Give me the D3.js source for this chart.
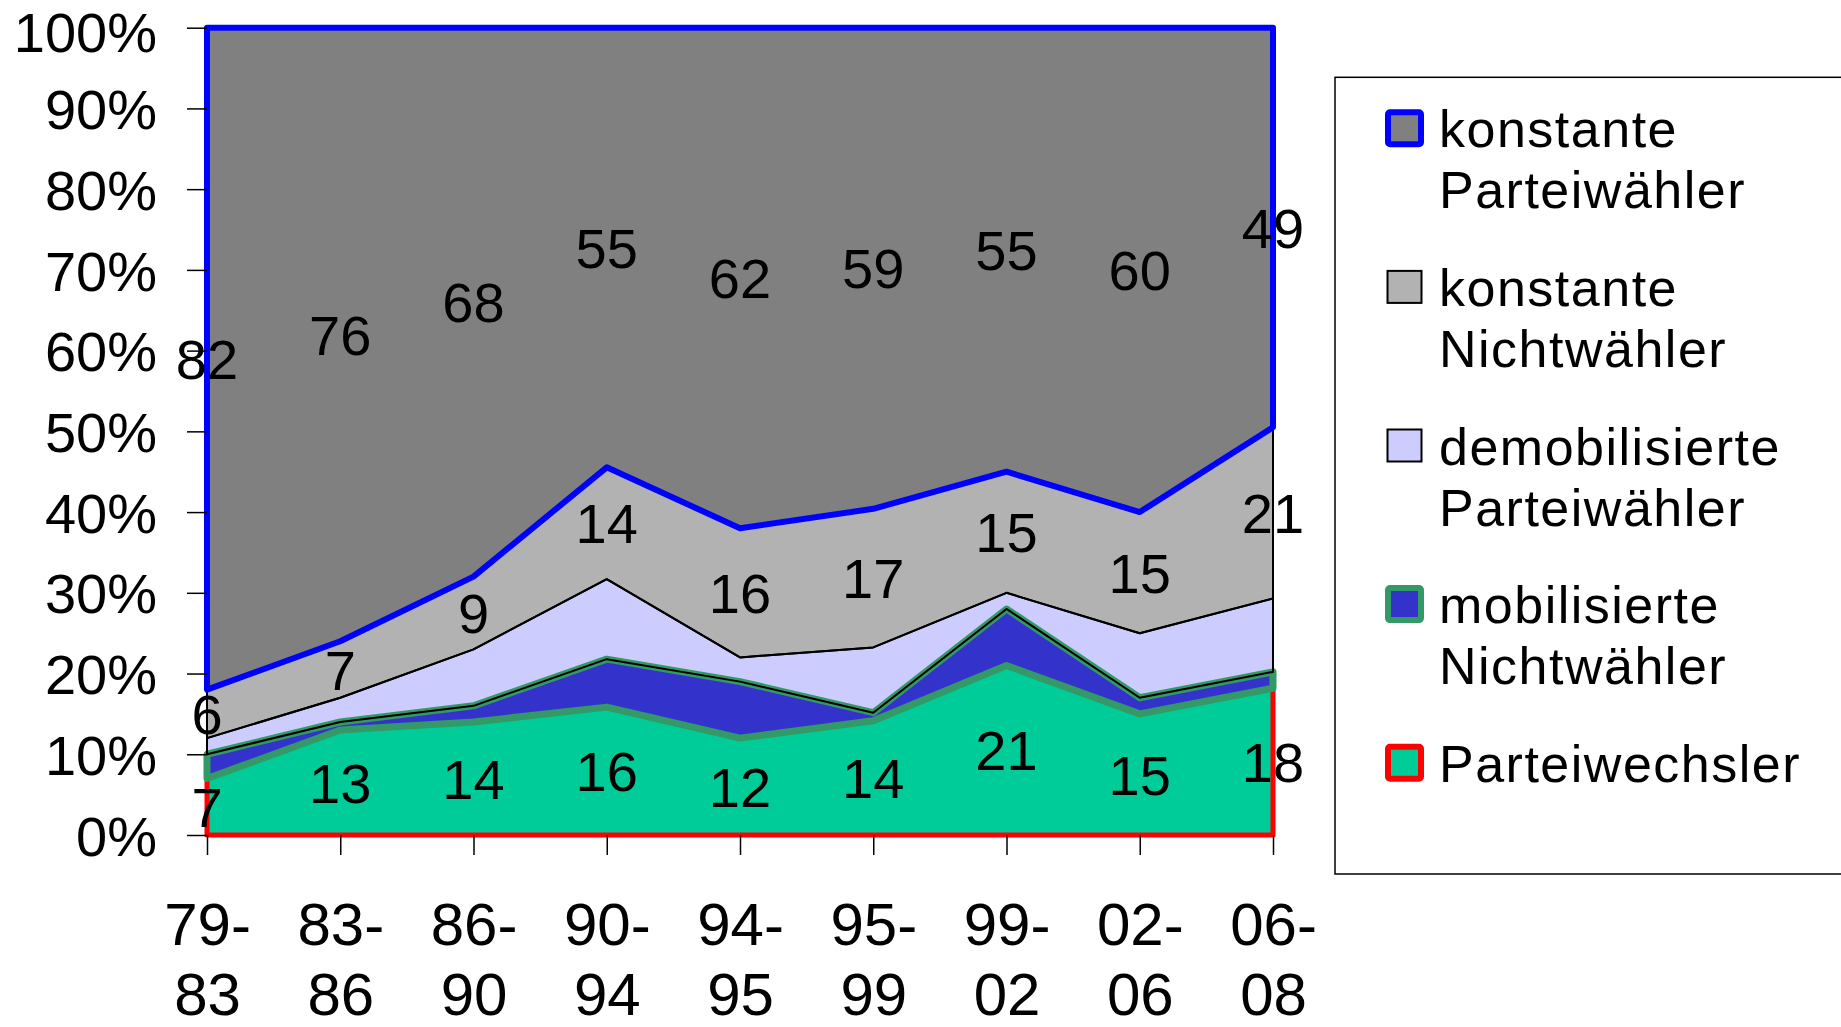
<!DOCTYPE html>
<html>
<head>
<meta charset="utf-8">
<script src="https://cdn.jsdelivr.net/npm/d3@7"></script>
<style>
  html, body { margin: 0; padding: 0; background: #fff; }
  svg { display: block; font-family: "Liberation Sans", Arial, sans-serif; }
</style>
</head>
<body>
<svg id="chart" width="1841" height="1027"></svg>
<script>
// ---- data ----
const categories = ["79-83", "83-86", "86-90", "90-94", "94-95", "95-99", "99-02", "02-06", "06-08"];
const parteiwechsler        = [7, 13, 14, 16, 12, 14, 21, 15, 18];
const mobilisierteNW        = [3, 1, 2, 6, 7, 1, 7, 2, 2];
const demobilisiertePW      = [2, 3, 7, 10, 3, 8, 2, 8, 9];
const konstanteNW           = [6, 7, 9, 14, 16, 17, 15, 15, 21];
const konstantePW           = [82, 76, 68, 55, 62, 59, 55, 60, 49];
const seriesKeys  = ["P", "M", "D", "NW", "KP"];
const seriesNames = [["Parteiwechsler"], ["mobilisierte", "Nichtwähler"], ["demobilisierte", "Parteiwähler"], ["konstante", "Nichtwähler"], ["konstante", "Parteiwähler"]];
const labeledKeys = ["P", "NW", "KP"];
const yTicks = [0, 0.1, 0.2, 0.3, 0.4, 0.5, 0.6, 0.7, 0.8, 0.9, 1.0];

const seriesValues = { P: parteiwechsler, M: mobilisierteNW, D: demobilisiertePW, NW: konstanteNW, KP: konstantePW };
const style = {
  P:  { fill: "#00CC99", stroke: "#FF0000", sw: 5 },
  M:  { fill: "#3333CC", stroke: "#339966", sw: 7 },
  D:  { fill: "#CCCCFF", stroke: "#000000", sw: 2 },
  NW: { fill: "#B2B2B2", stroke: "#000000", sw: 2 },
  KP: { fill: "#808080", stroke: "#0000FF", sw: 6 }
};

const table = categories.map((c, i) => {
  const row = { cat: c };
  seriesKeys.forEach(k => row[k] = seriesValues[k][i]);
  return row;
});

const svg = d3.select("#chart");
const pLeft = 207, pRight = 1273, pTop = 27.7, pBottom = 835;

const x = d3.scalePoint().domain(categories).range([pLeft, pRight]);
const y = d3.scaleLinear().domain([0, 1]).range([pBottom, pTop]);

const stacked = d3.stack().keys(seriesKeys).offset(d3.stackOffsetExpand)(table);

const area = d3.area()
  .x(d => x(d.data.cat))
  .y0(d => y(d[0]))
  .y1(d => y(d[1]));

// axis lines underneath
svg.append("line").attr("x1", pLeft).attr("x2", pRight).attr("y1", pBottom).attr("y2", pBottom)
  .attr("stroke", "#000").attr("stroke-width", 1.5);
svg.append("line").attr("x1", pLeft).attr("x2", pLeft).attr("y1", pBottom).attr("y2", pTop)
  .attr("stroke", "#000").attr("stroke-width", 1.5);

// fills
const plot = svg.append("g");
plot.selectAll("path.fill").data(stacked).join("path")
  .attr("class", "fill")
  .attr("d", area)
  .attr("fill", d => style[d.key].fill)
  .attr("stroke", "none");
// borders
plot.selectAll("path.border").data(stacked).join("path")
  .attr("class", "border")
  .attr("d", area)
  .attr("fill", "none")
  .attr("stroke", d => style[d.key].stroke)
  .attr("stroke-width", d => style[d.key].sw)
  .attr("stroke-linejoin", "round");

// y axis
const yAxis = d3.axisLeft(y).tickValues(yTicks).tickFormat(d3.format(".0%"))
  .tickSize(20).tickSizeOuter(0).tickPadding(30);
const gy = svg.append("g").attr("transform", `translate(${pLeft},0)`).call(yAxis);
gy.select(".domain").remove();
gy.selectAll(".tick line").attr("stroke", "#000").attr("stroke-width", 1.5);
gy.selectAll(".tick text").attr("font-size", 56).attr("fill", "#000")
  .attr("dy", d => d === 1 ? "0.42em" : "0.36em")
  .attr("font-family", "Liberation Sans, Arial, sans-serif");

// x axis
const xAxis = d3.axisBottom(x).tickSize(20).tickSizeOuter(0).tickFormat("");
const gx = svg.append("g").attr("transform", `translate(0,${pBottom})`).call(xAxis);
gx.select(".domain").remove();
gx.selectAll(".tick line").attr("stroke", "#000").attr("stroke-width", 1.5);
gx.selectAll(".tick").each(function(d) {
  const parts = d.split("-");
  const t = d3.select(this).append("text")
    .attr("text-anchor", "middle").attr("font-size", 60).attr("fill", "#000")
    .attr("font-family", "Liberation Sans, Arial, sans-serif");
  t.append("tspan").attr("x", 0).attr("y", 945 - pBottom).text(parts[0] + "-");
  t.append("tspan").attr("x", 0).attr("y", 1015 - pBottom).text(parts[1]);
});

// data labels
stacked.filter(s => labeledKeys.includes(s.key)).forEach(s => {
  svg.append("g").selectAll("text").data(s).join("text")
    .attr("x", d => x(d.data.cat))
    .attr("y", d => (y(d[0]) + y(d[1])) / 2)
    .attr("dy", "0.36em")
    .attr("text-anchor", "middle")
    .attr("font-size", 56)
    .attr("fill", "#000")
    .text(d => d.data[s.key]);
});

// legend
const lg = svg.append("g");
lg.append("rect").attr("x", 1335).attr("y", 77.3).attr("width", 560).attr("height", 796.7)
  .attr("fill", "#fff").attr("stroke", "#000").attr("stroke-width", 1.5);
const legendOrder = seriesKeys.slice().reverse();
legendOrder.forEach((k, i) => {
  const base = 147.3 + i * 158.6;
  const st = style[k];
  const thick = st.sw >= 5;
  const w = thick ? 33 : 34, h = 32;
  lg.append("rect")
    .attr("x", 1404.5 - w / 2).attr("y", base - 19 - h / 2)
    .attr("width", w).attr("height", h)
    .attr("rx", thick ? 2 : 0)
    .attr("fill", st.fill).attr("stroke", st.stroke)
    .attr("stroke-width", thick ? 6 : 2);
  const names = seriesNames[seriesKeys.indexOf(k)];
  const t = lg.append("text").attr("font-size", 52).attr("letter-spacing", "1.5px").attr("fill", "#000");
  names.forEach((n, j) => {
    t.append("tspan").attr("x", 1439).attr("y", base + j * 61).text(n);
  });
});
</script>
</body>
</html>
